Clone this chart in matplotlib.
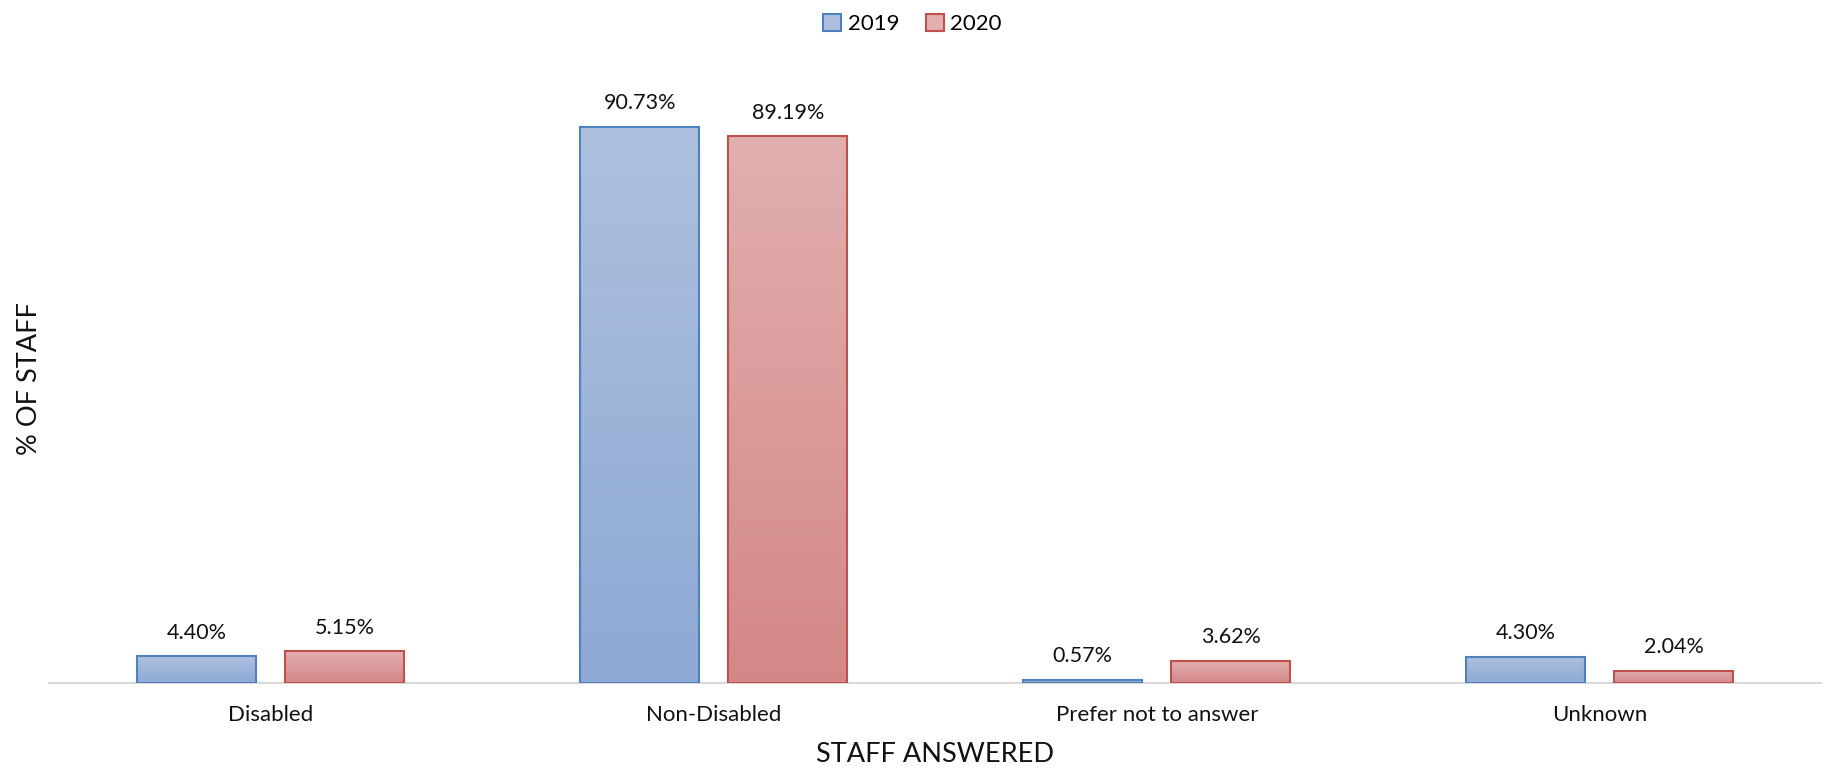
import matplotlib.pyplot as plt
import matplotlib.colors as mcolors
from matplotlib.patches import Patch
import numpy as np

categories = ['Disabled', 'Non-Disabled', 'Prefer not to answer', 'Unknown']
pct_2019 = [4.40, 90.73, 0.57, 4.30]
pct_2020 = [5.15, 89.19, 3.62, 2.04]
years = ['2019', '2020']

# light top -> darker bottom fills, Excel style outlines
fills = {
    '2019': ('#AEC0DE', '#8DA9D4', '#4F81BD'),
    '2020': ('#E2AFAF', '#D48787', '#C0504D'),
}

plt.rcParams['font.family'] = ['Lato', 'DejaVu Sans']

fig = plt.figure(figsize=(18.25, 7.75), dpi=100)
ax = fig.add_axes([0.027, 0.1187, 0.971, 0.791])

x = np.arange(len(categories))
width = 0.269
offset = 0.167


def gradient_bars(xpos, values, year):
    top, bottom, edge = fills[year]
    cmap = mcolors.LinearSegmentedColormap.from_list(year, [bottom, top])
    grad = np.linspace(0, 1, 256).reshape(-1, 1)
    bars = ax.bar(xpos, values, width, facecolor='none', edgecolor=edge,
                  linewidth=1.5, zorder=3)
    for b in bars:
        x0, y0 = b.get_x(), b.get_y()
        im = ax.imshow(grad, cmap=cmap, origin='lower', aspect='auto',
                       extent=[x0, x0 + b.get_width(), y0, y0 + b.get_height()],
                       zorder=2)
        im.set_clip_path(b)
    for xi, v in zip(xpos, values):
        ax.text(xi, v + 2.2, f'{v:.2f}%', ha='center', va='bottom',
                fontsize=15.5, color='#111111')
    return bars


gradient_bars(x - offset, pct_2019, '2019')
gradient_bars(x + offset, pct_2020, '2020')

ax.set_xlim(-0.5, len(categories) - 0.5)
ax.set_ylim(0, 100)
ax.set_xticks(x)
ax.set_xticklabels(categories, fontsize=16, color='#111111')
ax.tick_params(axis='x', length=0, pad=16)
ax.set_yticks([])
for side in ['top', 'right', 'left']:
    ax.spines[side].set_visible(False)
ax.spines['bottom'].set_color('#D9D9D9')
ax.spines['bottom'].set_linewidth(1.5)

ax.set_xlabel('STAFF ANSWERED', fontsize=19.5, color='#111111', labelpad=12)
fig.text(0.016, 0.512, '% OF STAFF', rotation=90, ha='center', va='center',
         fontsize=19.5, color='#111111')

handles = [Patch(facecolor=fills[y][0], edgecolor=fills[y][2], linewidth=1.5)
           for y in years]
fig.legend(handles, years, loc='upper center', bbox_to_anchor=(0.5, 1.008),
           ncol=2, frameon=False, fontsize=16, handlelength=0.8,
           handleheight=0.8, handletextpad=0.3, columnspacing=1.2)

fig.savefig('out.png', dpi=100, facecolor='white')
